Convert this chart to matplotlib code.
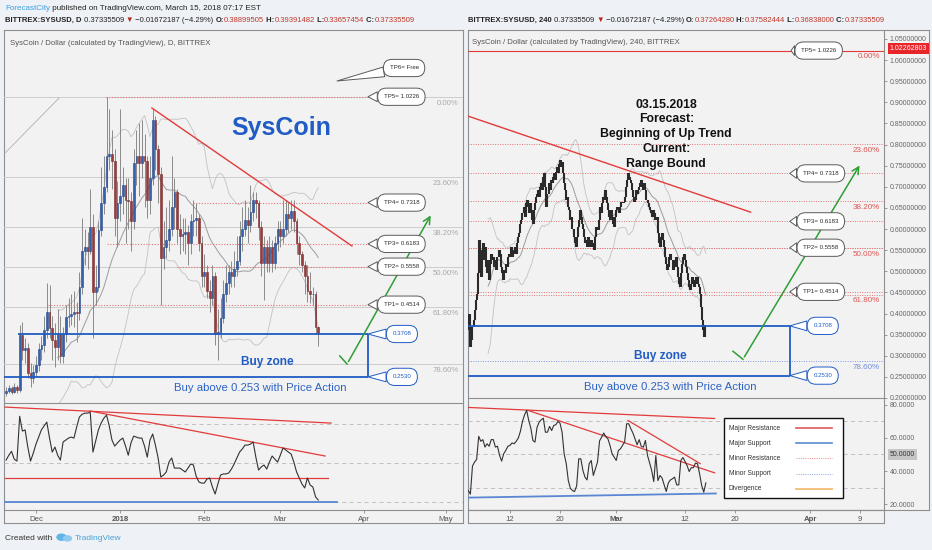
import matplotlib
matplotlib.use("Agg")
import matplotlib.pyplot as plt
import numpy as np
import pandas as pd
from matplotlib.patches import Rectangle, Ellipse

plt.rcParams['font.family'] = ['Liberation Sans', 'DejaVu Sans']

W, H = 932, 550
BG = '#eef1f5'
PANE = '#f2f2f2'
EDGE = '#8f8f8f'
BLUE = '#1f5cc4'
RED = '#e23b3b'
GREEN = '#2e9e35'

# ---------------- daily SYS/USD, 2017-11-20 .. 2018-03-15 ----------------
d_start = '2017-11-20'
d_first_open = 0.210
d_close = [
    0.215, 0.222, 0.212, 0.226, 0.218, 0.368, 0.327, 0.333, 0.264, 0.250,
    0.265, 0.285, 0.330, 0.340, 0.383, 0.430, 0.387, 0.355, 0.335, 0.370,
    0.310, 0.370, 0.417, 0.420, 0.425, 0.432, 0.428, 0.500, 0.600, 0.610,
    0.600, 0.665, 0.486, 0.500, 0.656, 0.730, 0.775, 0.860, 0.865, 0.845,
    0.690, 0.730, 0.750, 0.780, 0.740, 0.735, 0.680, 0.840, 0.860, 0.840,
    0.860, 0.845, 0.740, 0.800, 0.960, 0.880, 0.810, 0.580, 0.610, 0.630,
    0.660, 0.720, 0.760, 0.660, 0.640, 0.645, 0.650, 0.620, 0.680, 0.685,
    0.690, 0.620, 0.530, 0.540, 0.490, 0.470, 0.530, 0.370, 0.375, 0.415,
    0.480, 0.510, 0.540, 0.530, 0.550, 0.570, 0.640, 0.660, 0.685, 0.670,
    0.705, 0.740, 0.730, 0.665, 0.565, 0.610, 0.565, 0.610, 0.565, 0.620,
    0.660, 0.640, 0.660, 0.700, 0.690, 0.710, 0.680, 0.620, 0.590, 0.560,
    0.530, 0.490, 0.480, 0.480, 0.390, 0.3734]
d_high = [
    0.225, 0.232, 0.228, 0.235, 0.232, 0.395, 0.405, 0.360, 0.345, 0.290,
    0.285, 0.310, 0.345, 0.365, 0.420, 0.510, 0.505, 0.420, 0.400, 0.440,
    0.420, 0.390, 0.450, 0.470, 0.480, 0.490, 0.460, 0.540, 0.690, 0.660,
    0.650, 0.770, 0.700, 0.560, 0.680, 0.830, 0.860, 1.0226, 0.990, 0.930,
    0.880, 0.790, 0.990, 0.830, 0.800, 0.800, 0.760, 0.880, 0.930, 0.950,
    0.960, 0.920, 0.860, 0.860, 0.990, 0.970, 0.890, 0.830, 0.680, 0.720,
    0.740, 0.860, 0.800, 0.770, 0.700, 0.690, 0.690, 0.670, 0.700, 0.740,
    0.730, 0.700, 0.640, 0.590, 0.560, 0.520, 0.560, 0.540, 0.440, 0.470,
    0.520, 0.560, 0.560, 0.570, 0.600, 0.640, 0.680, 0.720, 0.740, 0.720,
    0.780, 0.760, 0.760, 0.740, 0.680, 0.640, 0.630, 0.640, 0.630, 0.640,
    0.680, 0.680, 0.740, 0.740, 0.730, 0.740, 0.740, 0.690, 0.640, 0.600,
    0.570, 0.560, 0.540, 0.500, 0.490, 0.3939]
d_low = [
    0.200, 0.208, 0.205, 0.208, 0.210, 0.212, 0.300, 0.290, 0.250, 0.225,
    0.235, 0.255, 0.270, 0.300, 0.320, 0.360, 0.360, 0.300, 0.280, 0.300,
    0.290, 0.290, 0.350, 0.390, 0.395, 0.390, 0.350, 0.410, 0.480, 0.560,
    0.550, 0.590, 0.360, 0.450, 0.490, 0.640, 0.700, 0.760, 0.820, 0.770,
    0.640, 0.610, 0.680, 0.700, 0.620, 0.660, 0.600, 0.660, 0.780, 0.750,
    0.800, 0.720, 0.690, 0.700, 0.780, 0.820, 0.730, 0.450, 0.550, 0.580,
    0.600, 0.640, 0.660, 0.620, 0.590, 0.600, 0.590, 0.560, 0.590, 0.640,
    0.640, 0.600, 0.500, 0.500, 0.470, 0.430, 0.450, 0.340, 0.300, 0.360,
    0.400, 0.460, 0.480, 0.500, 0.500, 0.530, 0.560, 0.600, 0.640, 0.620,
    0.650, 0.680, 0.690, 0.630, 0.530, 0.465, 0.540, 0.540, 0.540, 0.550,
    0.600, 0.610, 0.620, 0.640, 0.650, 0.660, 0.650, 0.590, 0.560, 0.540,
    0.480, 0.460, 0.455, 0.450, 0.370, 0.3366]
d_rsi = [
    51.5, 54.0, 56.0, 52.0, 51.0, 74.0, 66.4, 67.0, 58.2, 51.0,
    55.0, 59.7, 63.3, 67.0, 69.0, 71.0, 62.8, 55.6, 58.2, 54.0,
    51.5, 60.8, 61.8, 62.8, 63.3, 62.8, 68.5, 73.6, 75.0, 75.6,
    75.6, 76.0, 55.6, 61.3, 67.0, 70.5, 73.0, 74.6, 69.0, 61.8,
    58.7, 60.3, 61.8, 62.8, 58.7, 54.0, 60.3, 63.8, 63.3, 62.8,
    62.8, 58.7, 53.0, 61.8, 64.9, 59.2, 52.6, 42.8, 43.8, 45.4,
    50.5, 52.6, 47.4, 47.4, 47.4, 46.4, 45.4, 47.4, 49.5, 49.0,
    43.3, 40.3, 39.7, 39.7, 41.8, 42.3, 37.7, 34.1, 39.2, 43.8,
    44.4, 44.4, 44.9, 46.9, 49.5, 52.6, 55.6, 57.2, 59.2, 59.2,
    59.7, 60.8, 53.0, 46.4, 48.0, 49.0, 46.9, 50.5, 53.6, 52.0,
    50.5, 54.0, 57.7, 56.7, 55.6, 54.6, 50.5, 45.4, 42.3, 39.2,
    37.2, 42.3, 38.7, 37.7, 32.6, 31.0]

# ---------------- 4h SYS/USD, 2018-02-05 08:00 .. 2018-03-15 08:00 ----------------
h_start = '2018-02-05 08:00'
h_first_open = 0.360
h_close = [
    0.368, 0.400, 0.321, 0.337, 0.368, 0.384, 0.408, 0.432, 0.447, 0.495,
    0.574, 0.542, 0.487, 0.550, 0.566, 0.526, 0.558, 0.510, 0.495, 0.526,
    0.479, 0.518, 0.542, 0.526, 0.534, 0.510, 0.526, 0.503, 0.534, 0.550,
    0.542, 0.510, 0.495, 0.479, 0.503, 0.495, 0.518, 0.510, 0.534, 0.542,
    0.534, 0.558, 0.534, 0.550, 0.542, 0.558, 0.542, 0.566, 0.582, 0.590,
    0.613, 0.621, 0.637, 0.653, 0.629, 0.661, 0.668, 0.653, 0.637, 0.661,
    0.645, 0.621, 0.613, 0.645, 0.661, 0.676, 0.684, 0.692, 0.676, 0.700,
    0.708, 0.692, 0.724, 0.732, 0.700, 0.653, 0.684, 0.708, 0.692, 0.716,
    0.708, 0.724, 0.732, 0.716, 0.736, 0.747, 0.732, 0.755, 0.763, 0.747,
    0.759, 0.732, 0.708, 0.692, 0.668, 0.676, 0.653, 0.645, 0.621, 0.629,
    0.600, 0.582, 0.566, 0.558, 0.582, 0.605, 0.621, 0.645, 0.629, 0.613,
    0.600, 0.582, 0.566, 0.574, 0.558, 0.582, 0.566, 0.558, 0.574, 0.566,
    0.558, 0.550, 0.582, 0.605, 0.597, 0.621, 0.653, 0.637, 0.661, 0.676,
    0.668, 0.692, 0.676, 0.661, 0.645, 0.629, 0.621, 0.645, 0.629, 0.613,
    0.605, 0.629, 0.645, 0.653, 0.645, 0.637, 0.653, 0.664, 0.661, 0.664,
    0.676, 0.700, 0.716, 0.732, 0.724, 0.716, 0.708, 0.692, 0.676, 0.664,
    0.668, 0.692, 0.684, 0.692, 0.700, 0.708, 0.716, 0.700, 0.692, 0.708,
    0.692, 0.668, 0.661, 0.653, 0.645, 0.637, 0.629, 0.645, 0.637, 0.621,
    0.629, 0.629, 0.590, 0.566, 0.558, 0.582, 0.590, 0.574, 0.558, 0.534,
    0.518, 0.503, 0.510, 0.534, 0.542, 0.526, 0.503, 0.510, 0.526, 0.534,
    0.510, 0.487, 0.471, 0.463, 0.495, 0.518, 0.534, 0.542, 0.526, 0.510,
    0.495, 0.479, 0.463, 0.455, 0.471, 0.487, 0.479, 0.463, 0.471, 0.487,
    0.471, 0.463, 0.447, 0.416, 0.384, 0.360, 0.345, 0.3726, 0.3734]
# RSI read every second 4h bar (8h steps)
h_rsi = [
    28.2, 26.0, 43.0, 45.4, 47.0, 61.0, 58.0, 59.0, 54.5, 56.5,
    55.0, 59.0, 59.0, 54.5, 55.0, 49.5, 46.0, 50.5, 52.5, 55.0,
    55.5, 57.0, 56.5, 58.0, 60.0, 64.0, 70.0, 74.0, 76.7, 70.6,
    66.0, 58.5, 57.5, 66.5, 69.6, 71.0, 72.0, 63.5, 63.5, 67.0,
    64.5, 67.6, 68.0, 70.0, 69.0, 63.5, 50.4, 44.5, 34.2, 29.5,
    28.2, 27.6, 31.0, 47.4, 47.4, 40.3, 36.3, 34.6, 44.4, 46.4,
    37.3, 41.3, 45.4, 58.3, 60.5, 63.0, 60.7, 59.5, 55.5, 50.4,
    48.4, 46.4, 52.4, 53.4, 55.5, 57.5, 68.6, 68.6, 65.6, 63.0,
    59.5, 55.9, 59.0, 55.0, 54.4, 58.5, 49.4, 45.0, 40.3, 33.6,
    49.4, 34.2, 37.3, 35.7, 31.6, 27.6, 32.8, 34.6, 35.3, 36.3,
    31.6, 31.6, 46.4, 48.2, 45.8, 43.3, 39.7, 42.0, 42.0, 44.8,
    44.4, 38.3, 31.2, 27.2, 32.8]

# ---------------- drawn levels ----------------
tp_names = ['TP1', 'TP2', 'TP3', 'TP4', 'TP5']
tp_values = [0.4514, 0.5558, 0.6183, 0.7318, 1.0226]
tp_start_daily = [15.4, 63.0, 37.2, 68.8, 36.8]     # bar index where each dotted line begins
fib_pcts = [0.0, 23.6, 38.2, 50.0, 61.8, 78.6]
fib_high, fib_low = 1.0226, 0.0876
zone_top, zone_bottom = 0.3708, 0.2530

# author drawings on daily chart: (bar index, price / rsi)
d_trend = [(53.7, 0.9917), (127.4, 0.6126)]
d_arrow = [(122.9, 0.3104), (125.6, 0.2884), (156.9, 0.7032)]
d_diag = [(-0.4, 0.868), (19.5, 1.019)]
d_rsi_res = [[(-0.4, 78.7), (119.7, 70.5)], [(30.9, 76.7), (117.5, 53.6)], [(-0.4, 42.3), (118.6, 42.3)]]
d_rsi_sup = [(-0.4, 30.0), (121.9, 30.0)]
# author drawings on 4h chart: (bar index, price / rsi)
h_trend = [(-0.3, 0.8675), (271.0, 0.640)]
h_arrow = [(254.0, 0.3107), (263.6, 0.2917), (376.9, 0.7562)]
h_rsi_res = [[(-0.3, 78.5), (236.4, 71.8)], [(57.3, 76.7), (236.4, 38.9)], [(153.3, 70.6), (222.5, 44.5)]]
h_rsi_sup = [(-0.3, 23.9), (237.6, 26.4)]

fig = plt.figure(figsize=(W / 100, H / 100), dpi=100, facecolor=BG)


def pane(x0, y0, x1, y1):
    return fig.add_axes([x0 / W, 1 - y1 / H, (x1 - x0) / W, (y1 - y0) / H])


def boxed(ax):
    ax.set_facecolor(PANE)
    ax.set_xticks([])
    ax.set_yticks([])
    for s in ax.spines.values():
        s.set_color(EDGE)
        s.set_linewidth(0.8)


def bare(ax, keep=()):
    ax.set_facecolor('none')
    for k, s in ax.spines.items():
        s.set_visible(k in keep)
        s.set_color(EDGE)
        s.set_linewidth(0.8)
    ax.tick_params(length=0)
    ax.set_xticks([])
    ax.set_yticks([])


def callout(ax, text, tip, box, color='#2b2b2b', edge='#5a5a5a'):
    ax.annotate(text, xy=tip, xytext=box, ha='center', va='center', fontsize=4.4, color=color,
                bbox=dict(boxstyle='round,pad=1.0,rounding_size=1.4', fc='white', ec=edge, lw=0.7),
                arrowprops=dict(arrowstyle='wedge,tail_width=1.6,shrink_factor=0.5',
                                fc='white', ec=edge, lw=0.7, shrinkA=0, shrinkB=0),
                zorder=8, annotation_clip=False)


def line_of(ax, pts, **kw):
    xs, ys = zip(*pts)
    ax.plot(xs, ys, **kw)


overlay = fig.add_axes([0, 0, 1, 1])
overlay.set_xlim(0, W)
overlay.set_ylim(H, 0)
overlay.axis('off')

bgL = pane(4, 30, 463, 523)
boxed(bgL)
bgR = pane(468, 30, 929, 510)
boxed(bgR)
bgR2 = pane(468, 510, 884, 523)
boxed(bgR2)

fib_levels = [fib_high - p / 100 * (fib_high - fib_low) for p in fib_pcts]

# ======================= LEFT: daily =======================
axL = pane(4, 30, 463, 403)
bare(axL, keep=('bottom',))
axL.set_xlim(-0.77, 168.3)
axL.set_ylim(0.1812, 1.206)

di = np.arange(len(d_close))
dc = np.array(d_close)
do = np.r_[d_first_open, dc[:-1]]
ser = pd.Series(d_close)
mid = ser.rolling(20).mean()
sd = ser.rolling(20).std(ddof=0)
axL.plot(di, mid, color='#9c9c9c', lw=0.7, zorder=2)
axL.plot(di, mid + 2 * sd, color='#c2c2c2', lw=0.6, zorder=2)
axL.plot(di, mid - 2 * sd, color='#c2c2c2', lw=0.6, zorder=2)

axL.vlines(di, d_low, d_high, color='#8a8a8a', lw=0.7, zorder=3)
up = dc >= do
axL.bar(di[up], (dc - do)[up], bottom=do[up], width=0.62, color='#3461ad', edgecolor='#23478a', lw=0.4, zorder=4)
axL.bar(di[~up], (do - dc)[~up], bottom=dc[~up], width=0.62, color='#9a3b3b', edgecolor='#7a2a2a', lw=0.4, zorder=4)

for p, lv in zip(fib_pcts, fib_levels):
    axL.axhline(lv, color='#cdcdcd', lw=0.7, zorder=1)
    axL.annotate(f'{p:.2f}%', xy=(1, lv), xycoords=('axes fraction', 'data'), xytext=(-3, -2),
                 textcoords='offset points', ha='right', va='top', fontsize=5.6, color='#a9a9a9')

box_i, tip_i = 145.6, 133.3
for name, v, s in zip(tp_names, tp_values, tp_start_daily):
    axL.hlines(v, s, tip_i, color='#e57373', lw=0.8, ls=(0, (1, 1.5)), zorder=2)
    callout(axL, f'{name}= {v:.4f}', (tip_i, v), (box_i, v))
callout(axL, 'TP6= Free', (121.9, 1.066), (146.6, 1.1016))

axL.hlines(zone_top, 4.4, tip_i, color=BLUE, lw=1.3, zorder=5)
axL.hlines(zone_bottom, -0.77, tip_i, color=BLUE, lw=1.3, zorder=5)
axL.vlines(tip_i, zone_bottom, zone_top, color=BLUE, lw=1.3, zorder=5)
callout(axL, f'{zone_top:.4f}', (tip_i, zone_top), (145.8, zone_top), color=BLUE, edge=BLUE)
callout(axL, f'{zone_bottom:.4f}', (tip_i, zone_bottom), (145.8, zone_bottom), color=BLUE, edge=BLUE)

line_of(axL, d_trend, color=RED, lw=1.0, zorder=5)
line_of(axL, d_diag, color='#b0b0b0', lw=0.6, zorder=2)
axL.annotate('', xy=d_arrow[2], xytext=d_arrow[1],
             arrowprops=dict(arrowstyle='->,head_length=0.5,head_width=0.25', color=GREEN, lw=1.1), zorder=6)
line_of(axL, d_arrow[:2], color=GREEN, lw=1.1, zorder=6)

axL.text(101.2, 0.9367, 'SysCoin', fontsize=18, fontweight='bold', color=BLUE, ha='center', va='center')
axL.text(96.1, 0.2939, 'Buy zone', fontsize=8.6, fontweight='bold', color=BLUE, ha='center', va='center')
axL.text(93.5, 0.2224, 'Buy above 0.253 with Price Action', fontsize=8.2, color='#2d63c6', ha='center', va='center')
axL.text(0.013, 0.965, 'SysCoin / Dollar (calculated by TradingView), D, BITTREX', transform=axL.transAxes,
         fontsize=5.6, color='#555555', ha='left', va='center')

axLr = pane(4, 403, 463, 510)
bare(axLr, keep=('bottom',))
axLr.set_xlim(-0.77, 168.3)
axLr.set_ylim(25.9, 80.8)
for lv in (70, 50, 30):
    axLr.axhline(lv, color='#b9b9b9', lw=0.6, ls=(0, (5, 4)), zorder=1)
for seg in d_rsi_res:
    line_of(axLr, seg, color=RED, lw=0.9, zorder=3)
line_of(axLr, d_rsi_sup, color='#5a86d4', lw=1.3, zorder=3)
axLr.plot(di, d_rsi, color='#333333', lw=0.8, zorder=4)

d0 = pd.Timestamp(d_start)
d_tick_dates = pd.to_datetime(['2017-12-01', '2018-01-01', '2018-02-01', '2018-03-01', '2018-04-01', '2018-05-01'])
d_tick_labels = ['Dec', '2018', 'Feb', 'Mar', 'Apr', 'May']
axLr.set_xticks([(t - d0).days for t in d_tick_dates])
axLr.set_xticklabels(d_tick_labels, fontsize=5.6, color='#555555')
axLr.tick_params(axis='x', length=2.5, width=0.6, color='#888888', pad=1.5)
axLr.get_xticklabels()[1].set_fontweight('bold')

# ======================= RIGHT: 4h =======================
axR = pane(468, 30, 884, 398)
bare(axR, keep=('bottom', 'right'))
axR.set_xlim(-0.29, 399.0)
axR.set_ylim(0.2007, 1.0713)

hj = np.arange(len(h_close))
hc = np.array(h_close)
ho = np.r_[h_first_open, hc[:-1]]
hser = pd.Series(h_close)
hmid = hser.rolling(20).mean()
hsd = hser.rolling(20).std(ddof=0)
axR.plot(hj, hmid, color='#9c9c9c', lw=0.7, zorder=2)
axR.plot(hj, hmid + 2 * hsd, color='#c2c2c2', lw=0.6, zorder=2)
axR.plot(hj, hmid - 2 * hsd, color='#c2c2c2', lw=0.6, zorder=2)
axR.vlines(hj, ho, hc, color='#2a2a2a', lw=1.5, zorder=4)

axR.axhline(fib_high, color=RED, lw=0.8, zorder=2)
for p, lv in zip(fib_pcts, fib_levels):
    col = '#7b9be0' if p > 70 else '#e57373'
    if p > 0:
        axR.axhline(lv, color=col, lw=0.7, ls=(0, (1, 1.5)), zorder=1)
    axR.annotate(f'{p:.2f}%', xy=(1, lv), xycoords=('axes fraction', 'data'), xytext=(-3, -2),
                 textcoords='offset points', ha='right', va='top', fontsize=5.8,
                 color='#6f8fd8' if p > 70 else '#e05555')

rtip, rbox = 308.6, 338.3
for name, v in zip(tp_names, tp_values):
    if v < 1:
        axR.axhline(v, color='#e57373', lw=0.7, ls=(0, (1, 1.5)), zorder=1)
    callout(axR, f'{name}= {v:.4f}', (rtip + (1.2 if v > 1 else 0), v), (rbox - (2 if v > 1 else 0), v))

axR.hlines(zone_top, -0.3, rtip, color=BLUE, lw=1.3, zorder=5)
axR.hlines(zone_bottom, -0.3, rtip, color=BLUE, lw=1.3, zorder=5)
axR.vlines(rtip, zone_bottom, zone_top, color=BLUE, lw=1.3, zorder=5)
callout(axR, f'{zone_top:.4f}', (rtip, zone_top), (340.2, zone_top), color=BLUE, edge=BLUE)
callout(axR, f'{zone_bottom:.4f}', (rtip, zone_bottom), (340.2, zone_bottom), color=BLUE, edge=BLUE)

line_of(axR, h_trend, color=RED, lw=1.0, zorder=5)
axR.annotate('', xy=h_arrow[2], xytext=h_arrow[1],
             arrowprops=dict(arrowstyle='->,head_length=0.5,head_width=0.25', color=GREEN, lw=1.1), zorder=6)
line_of(axR, h_arrow[:2], color=GREEN, lw=1.1, zorder=6)

axR.text(190, 0.909, '03.15.2018\nForecast:\nBeginning of Up Trend\nCurrent:\nRange Bound',
         fontsize=8.8, fontweight='bold', color='#111111', ha='center', va='top', linespacing=1.32, zorder=7)
axR.text(184.3, 0.2988, 'Buy zone', fontsize=8.6, fontweight='bold', color=BLUE, ha='center', va='center')
axR.text(193.9, 0.2254, 'Buy above 0.253 with Price Action', fontsize=8.2, color='#2d63c6', ha='center', va='center')
axR.text(0.01, 0.965, 'SysCoin / Dollar (calculated by TradingView), 240, BITTREX', transform=axR.transAxes,
         fontsize=5.6, color='#555555', ha='left', va='center')

axR.yaxis.tick_right()
axR.set_yticks(np.arange(0.20, 1.051, 0.05))
axR.set_yticklabels([f'{v:.8f}' for v in np.arange(0.20, 1.051, 0.05)], fontsize=5.0, color='#666666')
axR.tick_params(axis='y', length=2.5, width=0.6, color='#888888', pad=1.5)
axR.annotate('1.02262803', xy=(1, fib_high), xycoords=('axes fraction', 'data'), xytext=(4.2, 1.5),
             textcoords='offset points', ha='left', va='center', fontsize=5.0, color='white',
             bbox=dict(boxstyle='square,pad=0.3', fc='#e8262a', ec='none'), annotation_clip=False)

axRr = pane(468, 398, 884, 510)
bare(axRr, keep=('bottom', 'right'))
axRr.set_xlim(-0.29, 399.0)
axRr.set_ylim(16.4, 84.2)
for lv in (70, 50, 30):
    axRr.axhline(lv, color='#b9b9b9', lw=0.6, ls=(0, (5, 4)), zorder=1)
for seg in h_rsi_res:
    line_of(axRr, seg, color=RED, lw=0.9, zorder=3)
line_of(axRr, h_rsi_sup, color='#5a86d4', lw=1.3, zorder=3)
axRr.plot(hj[::2], h_rsi, color='#333333', lw=0.8, zorder=4)

axRr.yaxis.tick_right()
axRr.set_yticks([20, 40, 60, 80])
axRr.set_yticklabels([f'{v:.4f}' for v in (20, 40, 60, 80)], fontsize=5.0, color='#666666')
axRr.tick_params(axis='y', length=2.5, width=0.6, color='#888888', pad=1.5)
axRr.annotate('50.0000', xy=(1, 50), xycoords=('axes fraction', 'data'), xytext=(4.2, 0),
              textcoords='offset points', ha='left', va='center', fontsize=5.0, color='#333333',
              bbox=dict(boxstyle='square,pad=0.3', fc='#c6c6c6', ec='none'), annotation_clip=False)

h0 = pd.Timestamp(h_start)
h_tick_dates = pd.to_datetime(['2018-02-12', '2018-02-20', '2018-03-01', '2018-03-12',
                               '2018-03-20', '2018-04-01', '2018-04-09'])
h_tick_labels = ['12', '20', 'Mar', '12', '20', 'Apr', '9']
axRr.set_xticks([(t - h0) / pd.Timedelta(hours=4) for t in h_tick_dates])
axRr.set_xticklabels(h_tick_labels, fontsize=5.6, color='#555555')
axRr.tick_params(axis='x', length=2.5, width=0.6, color='#888888', pad=1.5)
for k in (2, 5):
    axRr.get_xticklabels()[k].set_fontweight('bold')

# hand-made legend box for the drawing styles
axRr.add_patch(Rectangle((0.615, 0.107), 0.286, 0.714, transform=axRr.transAxes,
                         fc='white', ec='#111111', lw=1.0, zorder=9))
leg_labels = ['Major Resistance', 'Major Support', 'Minor Resistance', 'Minor Support', 'Divergence']
leg_styles = [dict(color='#e05a5a', lw=1.2), dict(color='#5a8ad6', lw=1.2),
              dict(color='#f09a9a', lw=0.8, ls=(0, (1, 1))), dict(color='#9fb3e6', lw=0.8, ls=(0, (1, 1))),
              dict(color='#f3c27c', lw=1.4)]
for k, (lab, st) in enumerate(zip(leg_labels, leg_styles)):
    fy = 0.732 - k * 0.136
    axRr.text(0.627, fy, lab, transform=axRr.transAxes, fontsize=4.8, color='#333333',
              ha='left', va='center', zorder=10)
    axRr.plot([0.788, 0.875], [fy, fy], transform=axRr.transAxes, zorder=10, **st)

# ======================= header / footer =======================


def chain(x, y, parts, fs):
    prev = None
    for s, col, wt in parts:
        if prev is None:
            prev = overlay.text(x, y, s, color=col, fontweight=wt, fontsize=fs, ha='left', va='center')
        else:
            prev = overlay.annotate(s, xy=(1, 0), xycoords=prev, color=col, fontweight=wt,
                                    fontsize=fs, ha='left', va='bottom')


DK, RV = '#222222', '#c0392b'
chain(5, 8, [('ForecastCity', '#3aa0e4', 'normal'),
             (' published on TradingView.com, March 15, 2018 07:17 EST', DK, 'normal')], 5.8)
chain(5, 20, [('BITTREX:SYSUSD, D', DK, 'bold'), (' 0.37335509 ', DK, 'normal'), ('▼', '#b3261e', 'normal'),
              (' −0.01672187 (−4.29%) ', DK, 'normal'), ('O:', DK, 'bold'), ('0.38899505', RV, 'normal'),
              (' H:', DK, 'bold'), ('0.39391482', RV, 'normal'), (' L:', DK, 'bold'),
              ('0.33657454', RV, 'normal'), (' C:', DK, 'bold'), ('0.37335509', RV, 'normal')], 5.5)
chain(468, 20, [('BITTREX:SYSUSD, 240', DK, 'bold'), (' 0.37335509 ', DK, 'normal'), ('▼', '#b3261e', 'normal'),
                (' −0.01672187 (−4.29%) ', DK, 'normal'), ('O:', DK, 'bold'), ('0.37264280', RV, 'normal'),
                (' H:', DK, 'bold'), ('0.37582444', RV, 'normal'), (' L:', DK, 'bold'),
                ('0.36838000', RV, 'normal'), (' C:', DK, 'bold'), ('0.37335509', RV, 'normal')], 5.5)

overlay.text(5, 538, 'Created with', fontsize=6.0, color='#333333', ha='left', va='center')
overlay.add_patch(Ellipse((61.5, 537.2), 9, 6, color='#5fb4e8'))
overlay.add_patch(Ellipse((67.5, 538.4), 8, 5, color='#8fcbee'))
overlay.text(75, 538, 'TradingView', fontsize=6.0, color='#45a2d9', ha='left', va='center')

fig.savefig('out.png', dpi=100, facecolor=BG)
